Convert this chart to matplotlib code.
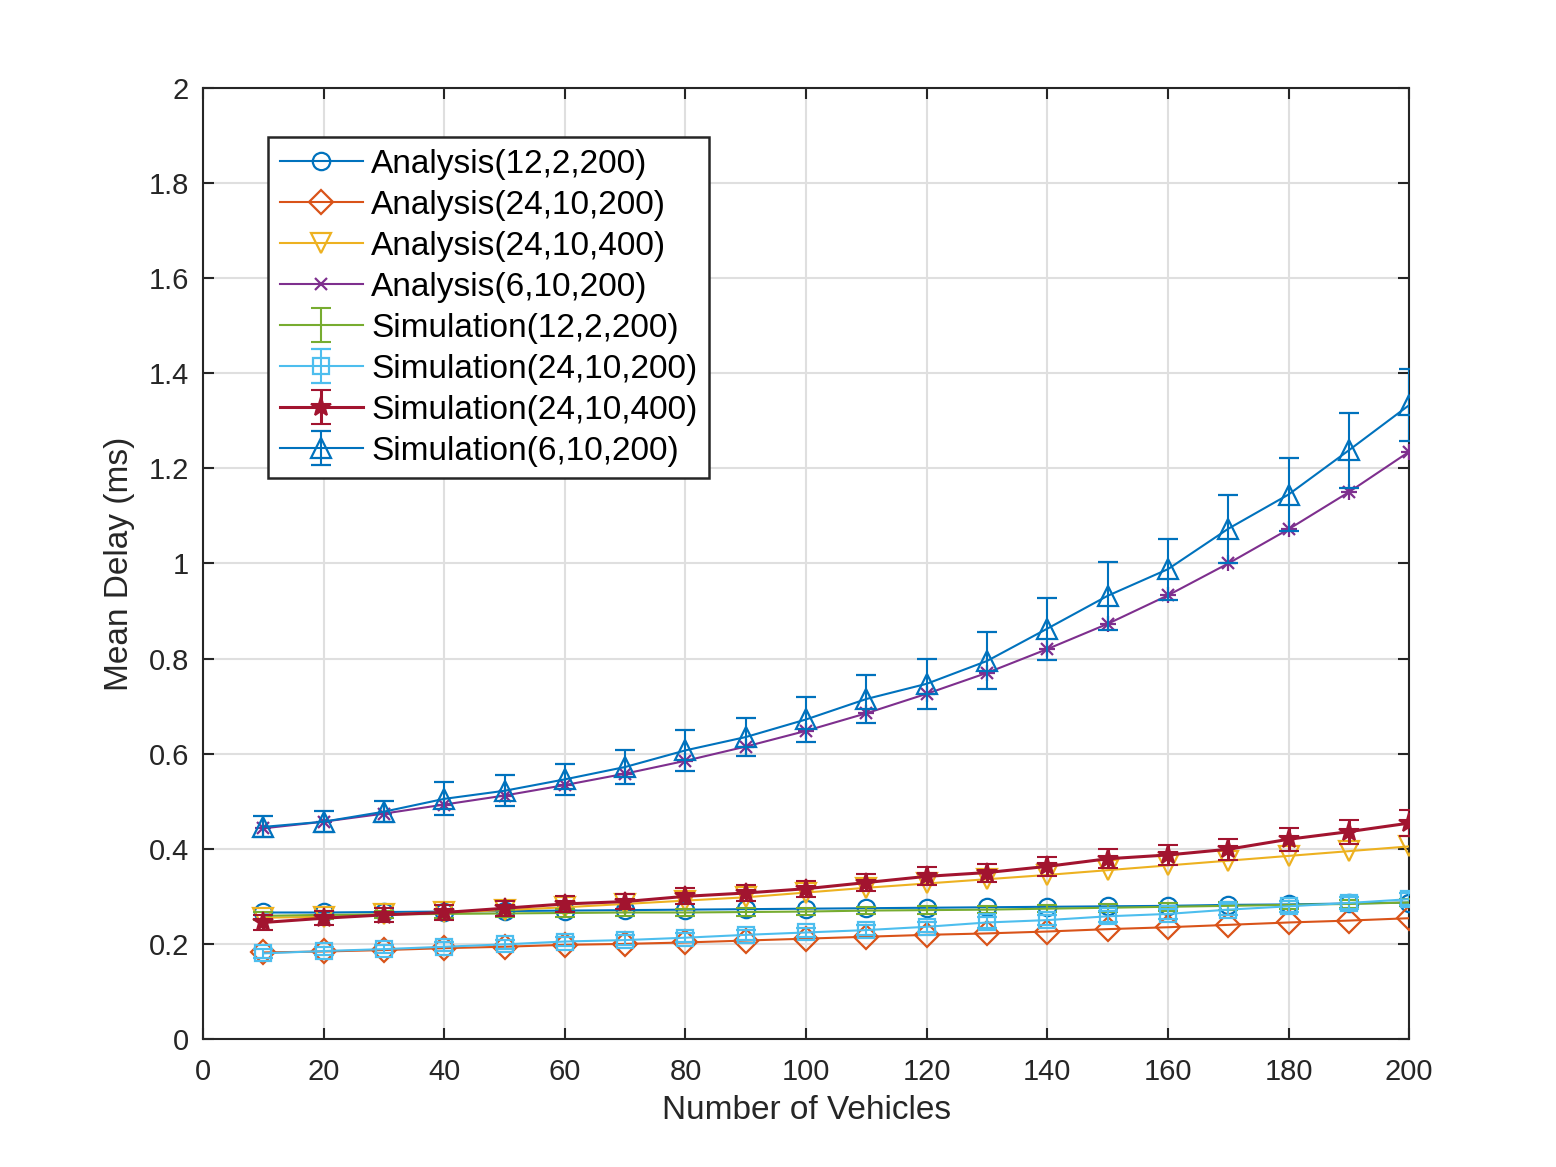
import matplotlib
matplotlib.use("Agg")
import matplotlib.pyplot as plt
import numpy as np

plt.rcParams['font.family'] = ['Liberation Sans', 'DejaVu Sans']

vehicles = [10, 20, 30, 40, 50, 60, 70, 80, 90, 100, 110, 120, 130, 140, 150, 160, 170, 180, 190, 200]

ana_12_2_200 = [0.266, 0.266, 0.267, 0.268, 0.269, 0.270, 0.271, 0.272, 0.273, 0.274,
                0.275, 0.276, 0.277, 0.278, 0.279, 0.280, 0.282, 0.283, 0.285, 0.287]
ana_24_10_200 = [0.182, 0.184, 0.187, 0.191, 0.194, 0.198, 0.200, 0.203, 0.207, 0.211,
                 0.215, 0.219, 0.222, 0.226, 0.231, 0.235, 0.240, 0.245, 0.249, 0.254]
ana_24_10_400 = [0.255, 0.257, 0.262, 0.266, 0.271, 0.277, 0.284, 0.291, 0.298, 0.308,
                 0.318, 0.327, 0.336, 0.345, 0.355, 0.365, 0.375, 0.385, 0.395, 0.405]
ana_6_10_200 = [0.443, 0.457, 0.474, 0.493, 0.512, 0.534, 0.558, 0.585, 0.615, 0.648,
                0.685, 0.726, 0.770, 0.820, 0.873, 0.933, 1.000, 1.072, 1.150, 1.235]

sim_12_2_200 = [0.259, 0.261, 0.262, 0.263, 0.264, 0.265, 0.266, 0.266, 0.267, 0.268,
                0.270, 0.271, 0.272, 0.274, 0.276, 0.278, 0.280, 0.282, 0.284, 0.287]
sim_12_2_200_err = [0.008, 0.008, 0.008, 0.008, 0.008, 0.008, 0.008, 0.008, 0.008, 0.008,
                    0.008, 0.008, 0.008, 0.008, 0.008, 0.008, 0.008, 0.008, 0.008, 0.008]
sim_24_10_200 = [0.180, 0.185, 0.189, 0.194, 0.199, 0.205, 0.208, 0.213, 0.219, 0.224,
                 0.229, 0.236, 0.245, 0.250, 0.258, 0.263, 0.272, 0.279, 0.286, 0.294]
sim_24_10_200_err = [0.009, 0.009, 0.009, 0.009, 0.009, 0.010, 0.010, 0.010, 0.010, 0.010,
                     0.010, 0.010, 0.011, 0.011, 0.011, 0.011, 0.012, 0.012, 0.012, 0.012]
sim_24_10_400 = [0.245, 0.254, 0.261, 0.266, 0.275, 0.284, 0.289, 0.300, 0.307, 0.316,
                 0.329, 0.342, 0.350, 0.363, 0.379, 0.387, 0.399, 0.420, 0.436, 0.454]
sim_24_10_400_err = [0.016, 0.015, 0.015, 0.015, 0.016, 0.016, 0.016, 0.017, 0.017, 0.017,
                     0.018, 0.019, 0.019, 0.020, 0.020, 0.021, 0.022, 0.024, 0.025, 0.027]
sim_6_10_200 = [0.446, 0.457, 0.478, 0.505, 0.522, 0.546, 0.572, 0.607, 0.635, 0.672,
                0.715, 0.747, 0.795, 0.863, 0.932, 0.988, 1.073, 1.145, 1.238, 1.333]
sim_6_10_200_err = [0.022, 0.022, 0.022, 0.035, 0.033, 0.032, 0.036, 0.043, 0.040, 0.048,
                    0.050, 0.053, 0.060, 0.065, 0.072, 0.064, 0.072, 0.077, 0.079, 0.075]

labels = ['Analysis(12,2,200)', 'Analysis(24,10,200)', 'Analysis(24,10,400)', 'Analysis(6,10,200)',
          'Simulation(12,2,200)', 'Simulation(24,10,200)', 'Simulation(24,10,400)', 'Simulation(6,10,200)']
xticks = [0, 20, 40, 60, 80, 100, 120, 140, 160, 180, 200]
yticks = [0, 0.2, 0.4, 0.6, 0.8, 1.0, 1.2, 1.4, 1.6, 1.8, 2.0]
ytick_labels = ['0', '0.2', '0.4', '0.6', '0.8', '1', '1.2', '1.4', '1.6', '1.8', '2']

c_blue = '#0072BD'
c_orange = '#D95319'
c_yellow = '#EDB120'
c_purple = '#7E2F8E'
c_green = '#77AC30'
c_cyan = '#4DBEEE'
c_red = '#A2142F'

fig = plt.figure(figsize=(15.56, 11.67), dpi=100)
ax = fig.add_axes([0.1305, 0.1097, 0.7751, 0.8149])

lw = 1.5
ax.plot(vehicles, ana_12_2_200, color=c_blue, lw=lw, marker='o', ms=12.5, mfc='none', mew=1.6, label=labels[0], zorder=3)
ax.plot(vehicles, ana_24_10_200, color=c_orange, lw=lw, marker='D', ms=12.5, mfc='none', mew=1.6, label=labels[1], zorder=3)
ax.plot(vehicles, ana_24_10_400, color=c_yellow, lw=lw, marker='v', ms=14.5, mfc='none', mew=1.6, label=labels[2], zorder=3)
ax.plot(vehicles, ana_6_10_200, color=c_purple, lw=lw, marker='x', ms=9, mew=1.6, label=labels[3], zorder=3)
ax.plot(vehicles, ana_6_10_200, color=c_purple, lw=0, marker='+', ms=12, mew=1.6, zorder=3)

cap = 7
ax.errorbar(vehicles, sim_12_2_200, yerr=sim_12_2_200_err, color=c_green, lw=lw, elinewidth=lw,
            capsize=cap, capthick=lw, label=labels[4], zorder=4)
ax.errorbar(vehicles, sim_24_10_200, yerr=sim_24_10_200_err, color=c_cyan, lw=lw, elinewidth=lw,
            capsize=cap, capthick=lw, marker='s', ms=11.5, mfc='none', mew=1.6, label=labels[5], zorder=4)
ax.errorbar(vehicles, sim_24_10_400, yerr=sim_24_10_400_err, color=c_red, lw=2.2, elinewidth=2.2,
            capsize=cap, capthick=2.2, marker='*', ms=15, mfc=c_red, mew=1.5, label=labels[6], zorder=5)
ax.errorbar(vehicles, sim_6_10_200, yerr=sim_6_10_200_err, color=c_blue, lw=lw, elinewidth=lw,
            capsize=cap, capthick=lw, marker='^', ms=15, mfc='none', mew=1.6, label=labels[7], zorder=4)

ax.set_xlim(0, 200)
ax.set_ylim(0, 2)
ax.set_xticks(xticks)
ax.set_yticks(yticks)
ax.set_yticklabels(ytick_labels)
ax.tick_params(direction='in', length=8, width=1.5, labelsize=21, colors='#262626',
               top=True, right=True)
ax.tick_params(axis='x', pad=14)
ax.tick_params(axis='y', pad=10)
ax.grid(True, color='#DFDFDF', lw=1.5)
ax.set_axisbelow(True)
for sp in ax.spines.values():
    sp.set_linewidth(1.5)
    sp.set_color('#262626')

ax.set_xlabel('Number of Vehicles', fontsize=24, color='#262626', labelpad=6)
ax.set_ylabel('Mean Delay (ms)', fontsize=24, color='#262626', labelpad=10)

handles, labs = ax.get_legend_handles_labels()
leg = ax.legend(handles, labs, loc='upper left', bbox_to_anchor=(0.0539, 0.9485), borderaxespad=0,
                fontsize=24, frameon=True, fancybox=False, edgecolor='#262626', framealpha=1,
                handlelength=2.5, handletextpad=0.25, labelspacing=0.3, borderpad=0.35)
leg.get_frame().set_linewidth(1.8)

fig.savefig('out.png', dpi=100)
